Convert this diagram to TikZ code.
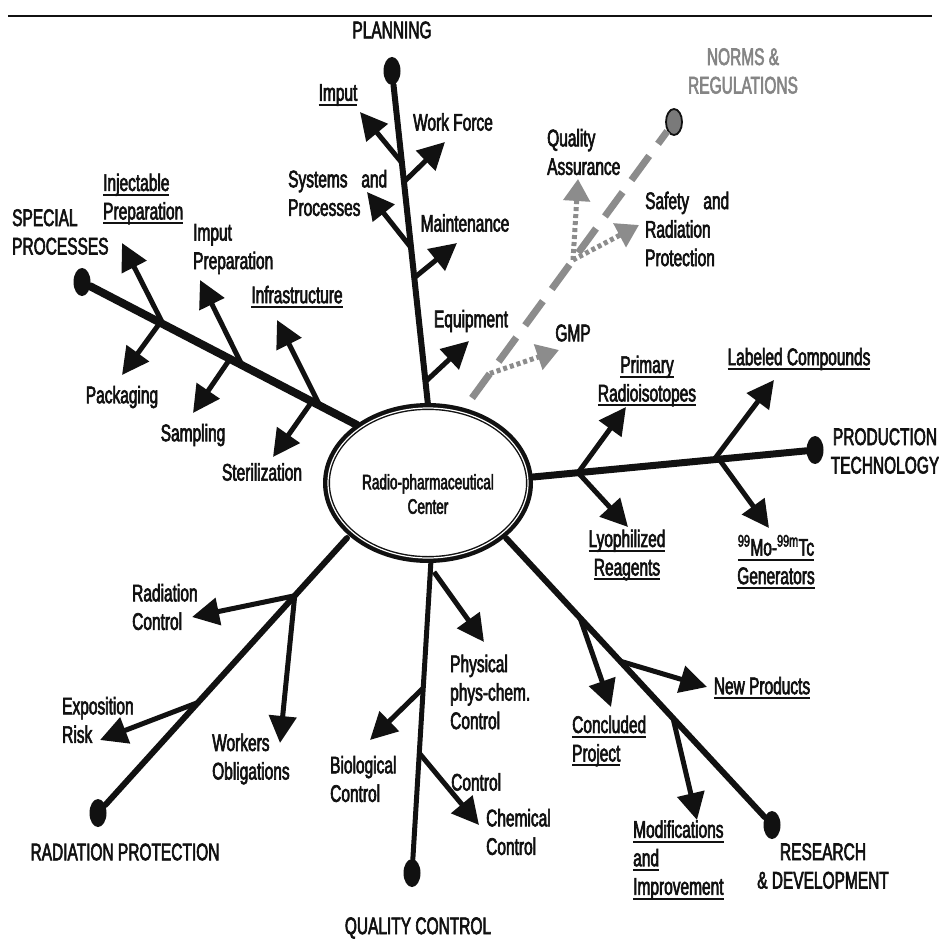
\documentclass[tikz,border=0pt]{standalone}
\usepackage{fontspec}
\setmainfont{Liberation Sans}[FakeStretch=0.645,FakeBold=2.5]
\usetikzlibrary{arrows.meta,shapes.geometric,calc}
\newsavebox\ulbox
\newcommand\ulx[1]{\sbox\ulbox{#1}\rlap{\rule[-5pt]{\wd\ulbox}{2pt}}\usebox\ulbox}
\definecolor{ink}{HTML}{111111}
\definecolor{greyline}{HTML}{8C8C8C}
\definecolor{greytext}{HTML}{858585}
\definecolor{greydot}{HTML}{7A7A7A}
\begin{document}
\begin{tikzpicture}[x=1pt,y=-1pt,
  every node/.style={font=\fontsize{24}{28.5}\selectfont, inner sep=0pt, text=ink},
  lbl/.style={align=left, anchor=west},
  clbl/.style={align=center},
  dotend/.style={ellipse, fill=ink, minimum width=17pt, minimum height=28pt, inner sep=0pt},
  trunk/.style={draw=ink, line width=#1, line cap=round},
  br/.style={draw=ink, line width=5pt, -{Triangle[length=27pt,width=27pt]}},
  gdot/.style={draw=greyline, line width=5pt, dash pattern=on 4pt off 3pt, -{Triangle[length=22pt,width=26pt,fill=greyline]}},
  gdash/.style={draw=greyline, line width=7pt, dash pattern=on 30pt off 15pt}
]
\useasboundingbox (0,0) rectangle (938,941);
\fill[white] (0,0) rectangle (938,941);
\draw[ink, line width=2pt] (8,16) -- (932,16);

% end dots
\node[dotend] (pl) at (392,71) {};
\node[dotend] (sp) at (82,282) {};
\node[dotend] (pt) at (815,450) {};
\node[dotend] (rd) at (772,825) {};
\node[dotend] (qc) at (412,873) {};
\node[dotend] (rp) at (98,813) {};
\node[dotend, fill=greydot, draw=ink, line width=1.8pt, minimum width=16pt, minimum height=26pt] (nr) at (674,122) {};

% attach points on the centre ellipse
\coordinate (plE) at (428,405);
\coordinate (spE) at (357,425);
\coordinate (ptE) at (533,477);
\coordinate (rdE) at (506,538);
\coordinate (qcE) at (431,560);
\coordinate (rpE) at (347,538);
\coordinate (nrE) at (472,398);

% trunks
\draw[trunk=6pt] (pl) -- (plE);
\draw[trunk=8pt] (sp) -- (spE);
\draw[trunk=7pt] (ptE) -- (pt);
\draw[trunk=6pt] (rdE) -- (rd);
\draw[trunk=5pt] (qcE) -- (qc);
\draw[trunk=6pt] (rpE) -- (rp);
\draw[gdash] (nrE) -- (nr);

% planning branches
\coordinate (p1) at ($(pl)!0.275!(plE)$); \coordinate (p1t) at (360,112);
\coordinate (p2) at ($(pl)!0.332!(plE)$); \coordinate (p2t) at (445,142);
\coordinate (p3) at ($(pl)!0.529!(plE)$); \coordinate (p3t) at (367,192);
\coordinate (p4) at ($(pl)!0.619!(plE)$); \coordinate (p4t) at (457,243);
\coordinate (p5) at ($(pl)!0.930!(plE)$); \coordinate (p5t) at (469,341);
\foreach \a in {1,...,5} {\draw[br] (p\a) -- (p\a t);}

% special processes branches
\coordinate (s1) at ($(sp)!0.295!(spE)$); \coordinate (s1t) at (122,243);
\coordinate (s2) at ($(sp)!0.284!(spE)$); \coordinate (s2t) at (122,375);
\coordinate (s3) at ($(sp)!0.582!(spE)$); \coordinate (s3t) at (200,280);
\coordinate (s4) at ($(sp)!0.538!(spE)$); \coordinate (s4t) at (193,413);
\coordinate (s5) at ($(sp)!0.865!(spE)$); \coordinate (s5t) at (277,320);
\coordinate (s6) at ($(sp)!0.836!(spE)$); \coordinate (s6t) at (273,457);
\foreach \a in {1,...,6} {\draw[br] (s\a) -- (s\a t);}

% production branches
\coordinate (r1) at ($(ptE)!0.16!(pt)$); \coordinate (r1t) at (626,407);
\coordinate (r2) at ($(ptE)!0.16!(pt)$); \coordinate (r2t) at (628,527);
\coordinate (r3) at ($(ptE)!0.642!(pt)$); \coordinate (r3t) at (774,380);
\coordinate (r4) at ($(ptE)!0.66!(pt)$); \coordinate (r4t) at (769,528);
\foreach \a in {1,...,4} {\draw[br] (r\a) -- (r\a t);}

% research branches
\coordinate (d1) at ($(rdE)!0.278!(rd)$); \coordinate (d1t) at (611,707);
\coordinate (d2) at ($(rdE)!0.429!(rd)$); \coordinate (d2t) at (707,687);
\coordinate (d3) at ($(rdE)!0.628!(rd)$); \coordinate (d3t) at (697,820);
\foreach \a in {1,...,3} {\draw[br] (d\a) -- (d\a t);}

% quality control branches
\coordinate (q1) at (434,572); \coordinate (q1t) at (484,642);
\coordinate (q2) at ($(qcE)!0.409!(qc)$); \coordinate (q2t) at (370,740);
\coordinate (q3) at ($(qcE)!0.617!(qc)$); \coordinate (q3t) at (479,825);
\foreach \a in {1,...,3} {\draw[br] (q\a) -- (q\a t);}

% radiation protection branches
\coordinate (x1) at ($(rpE)!0.21!(rp)$); \coordinate (x1t) at (192,617);
\coordinate (x2) at ($(rpE)!0.21!(rp)$); \coordinate (x2t) at (280,743);
\coordinate (x3) at ($(rpE)!0.598!(rp)$); \coordinate (x3t) at (100,740);
\foreach \a in {1,...,3} {\draw[br] (x\a) -- (x\a t);}

% norms branches (dotted grey)
\coordinate (n1) at ($(nrE)!0.089!(nr)$); \coordinate (n1t) at (559,350);
\coordinate (n2) at ($(nrE)!0.5!(nr)$); \coordinate (n2t) at (578,179);
\coordinate (n3) at ($(nrE)!0.5!(nr)$); \coordinate (n3t) at (639,225);
\foreach \a in {1,...,3} {\draw[gdot] (n\a) -- (n\a t);}

% centre ellipse
\node[ellipse, draw=ink, fill=white, line width=7pt, minimum width=203pt, minimum height=153pt] (ctr) at (428,483) {};
\draw[white, line width=1.2pt] (ctr.center) ellipse [x radius=100pt, y radius=75pt];
\node[clbl, font=\fontsize{21}{24.5}\selectfont] (ctrtxt) at (428,494) {Radio-pharmaceutical\\Center};

% labels
\node (lPL) at (392,30) {PLANNING};
\node (lP1) at (338,95) {\ulx{Imput}};
\node (lP2) at (453,122) {Work Force};
\node[lbl] (lP3) at (288,193) {\hbox to 99pt{Systems\hfil and}\\Processes};
\node (lP4) at (465,223) {Maintenance};
\node (lP5) at (471,321) {Equipment};

\node[lbl] (lSP) at (12,232) {SPECIAL\\PROCESSES};
\node[lbl] (lS1) at (103,199) {\ulx{Injectable}\\\ulx{Preparation}};
\node[lbl] (lS3) at (193,249) {Imput\\Preparation};
\node (lS5) at (297,297) {\ulx{Infrastructure}};
\node (lS2) at (122,397) {Packaging};
\node (lS4) at (193,435) {Sampling};
\node (lS6) at (262,472) {Sterilization};

\node[clbl, text=greytext] (lNR) at (743,71) {NORMS \&\\REGULATIONS};
\node[lbl] (lN2) at (547,152) {Quality\\Assurance};
\node[lbl] (lN3) at (645,229) {\hbox to 84pt{Safety\hfil and}\\Radiation\\Protection};
\node (lN1) at (573,333) {GMP};

\node[clbl] (lR1) at (647,381) {\ulx{Primary}\\\ulx{Radioisotopes}};
\node (lR3) at (799,359) {\ulx{Labeled Compounds}};
\node[clbl] (lPT) at (885,451) {PRODUCTION\\TECHNOLOGY};
\node[clbl] (lR2) at (627,555) {\ulx{Lyophilized}\\\ulx{Reagents}};
\node[clbl] (lR4) at (776,562) {\ulx{\textsuperscript{99}Mo-\textsuperscript{99m}Tc}\\\ulx{Generators}};

\node[lbl] (lX1) at (132,607) {Radiation\\Control};
\node[lbl] (lX3) at (62,720) {Exposition\\Risk};
\node[lbl] (lX2) at (212,759) {Workers\\Obligations};
\node (lRP) at (125,852) {RADIATION PROTECTION};

\node[lbl] (lQ2) at (330,779) {Biological\\Control};
\node[lbl] (lQ1) at (450,692) {Physical\\phys-chem.\\Control};
\node[lbl] (lQx) at (451,782) {Control};
\node[lbl] (lQ3) at (486,832) {Chemical\\Control};
\node (lQC) at (418,928) {QUALITY CONTROL};

\node[lbl] (lD1) at (572,741) {\ulx{Concluded}\\\ulx{Project}};
\node (lD2) at (762,688) {\ulx{New Products}};
\node[lbl] (lD3) at (633,860) {\ulx{Modifications}\\\ulx{and}\\\ulx{Improvement}};
\node[clbl] (lRD) at (823,866) {RESEARCH\\\& DEVELOPMENT};
\end{tikzpicture}
\end{document}
